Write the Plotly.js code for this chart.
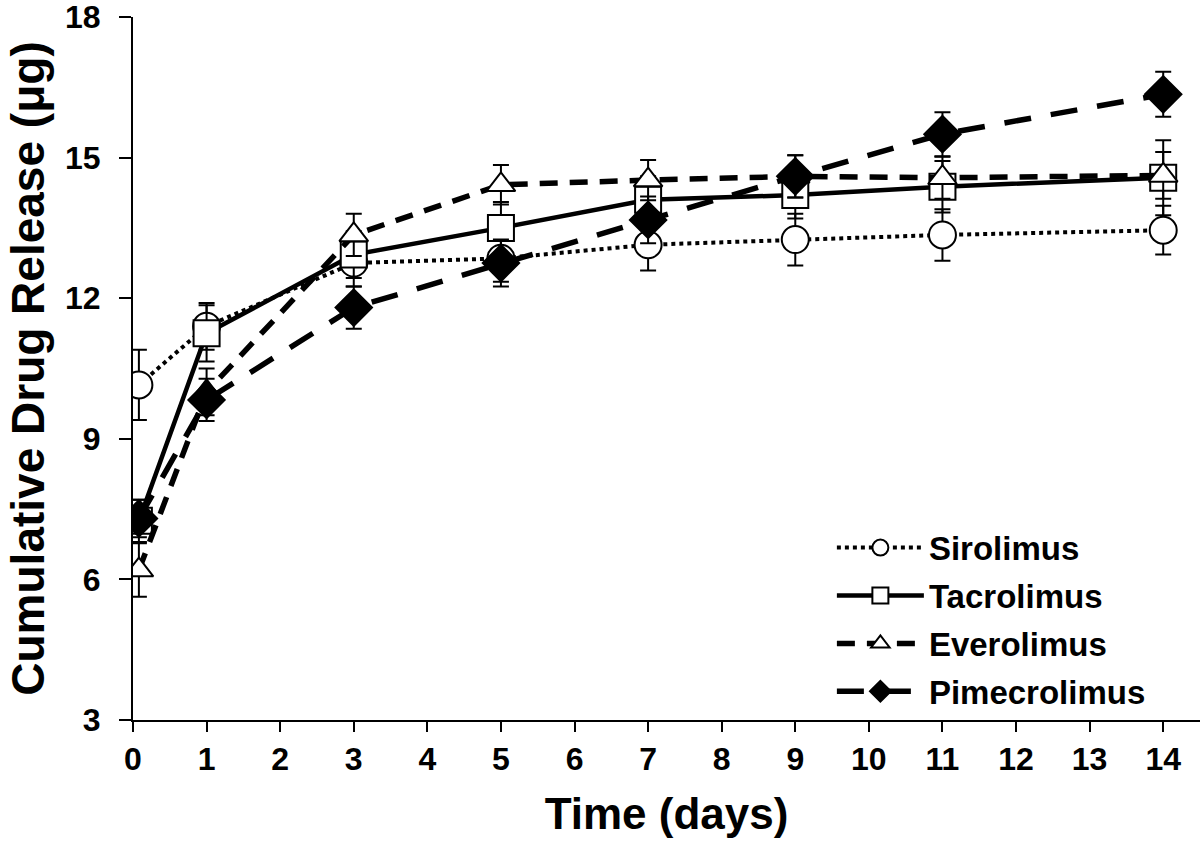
<!DOCTYPE html>
<html><head><meta charset="utf-8">
<script src="https://cdn.plot.ly/plotly-3.0.1.min.js"></script>
<style>body{margin:0;background:#fff}#c{width:1200px;height:846px}</style>
</head><body><div id="c"></div>
<script>
const days = [0.08, 1, 3, 5, 7, 9, 11, 14];
const sirolimus = [10.15, 11.4, 12.75, 12.85, 13.14, 13.25, 13.35, 13.45];
const sirolimusErr = [0.75, 0.5, 0.5, 0.5, 0.55, 0.55, 0.55, 0.52];
const tacrolimus = [7.25, 11.25, 12.93, 13.5, 14.1, 14.2, 14.38, 14.57];
const tacrolimusErr = [0.45, 0.6, 0.5, 0.55, 0.5, 0.5, 0.55, 0.8];
const everolimus = [6.2, 10.0, 13.35, 14.42, 14.52, 14.6, 14.57, 14.62];
const everolimusErr = [0.57, 0.5, 0.45, 0.42, 0.43, 0.45, 0.45, 0.5];
const pimecrolimus = [7.3, 9.83, 11.8, 12.75, 13.67, 14.6, 15.5, 16.35];
const pimecrolimusErr = [0.4, 0.45, 0.45, 0.5, 0.5, 0.45, 0.47, 0.48];
const names = ["Sirolimus", "Tacrolimus", "Everolimus", "Pimecrolimus"];
const xTicks = [0,1,2,3,4,5,6,7,8,9,10,11,12,13,14];
const yTicks = [3,6,9,12,15,18];

function tr(name, y, err, dash, lw, symbol, fill, size) {
  return {
    x: days, y: y, name: name, legendgroup: name, type: 'scatter', mode: 'lines+markers',
    line: {color: '#000', width: lw, dash: dash},
    marker: {symbol: symbol, size: size, color: fill, line: {color: '#000', width: 2}},
    error_y: {type: 'data', array: err, visible: true, color: '#000', thickness: 2, width: 8}
  };
}
const data = [
  tr(names[0], sirolimus, sirolimusErr, 'dot', 4, 'circle', '#fff', 27),
  tr(names[1], tacrolimus, tacrolimusErr, 'solid', 4.5, 'square', '#fff', 26),
  tr(names[2], everolimus, everolimusErr, '18px,12px', 5.5, 'triangle-up', '#fff', 25),
  tr(names[3], pimecrolimus, pimecrolimusErr, '27px,20px', 5.5, 'diamond', '#000', 28)
];
const fam = 'Liberation Sans, Arial, sans-serif';
const layout = {
  width: 1200, height: 846,
  margin: {l: 133, r: 0, t: 17, b: 126},
  paper_bgcolor: '#fff', plot_bgcolor: '#fff',
  showlegend: true,
  legend: {x: 0.655, y: 0.285, xanchor: 'left', yanchor: 'top', bgcolor: 'rgba(0,0,0,0)',
    traceorder: 'grouped', tracegroupgap: 2,
    font: {family: fam, size: 33, color: '#000', weight: 'bold'}, itemwidth: 87},
  xaxis: {range: [0, 14.5], tickvals: xTicks, ticktext: xTicks.map(String),
    showgrid: false, zeroline: false, showline: true, linecolor: '#000', linewidth: 2,
    ticks: 'outside', ticklen: 10, tickwidth: 2, tickcolor: '#000', ticklabeloverflow: 'allow',
    tickfont: {family: fam, size: 32, color: '#000', weight: 'bold'},
    title: {text: 'Time (days)', font: {family: fam, size: 44, color: '#000', weight: 'bold'}, standoff: 22}},
  yaxis: {range: [3, 18], tickvals: yTicks, ticktext: yTicks.map(String),
    showgrid: false, zeroline: false, showline: true, linecolor: '#000', linewidth: 2,
    ticks: 'outside', ticklen: 12, tickwidth: 2, tickcolor: '#000', ticklabelstandoff: 12,
    ticklabeloverflow: 'allow',
    tickfont: {family: fam, size: 32, color: '#000', weight: 'bold'},
    title: {text: 'Cumulative Drug Release (μg)', font: {family: fam, size: 46, color: '#000', weight: 'bold'}, standoff: 6}}
};
Plotly.newPlot('c', data, layout, {displayModeBar: false, staticPlot: true});
</script></body></html>
